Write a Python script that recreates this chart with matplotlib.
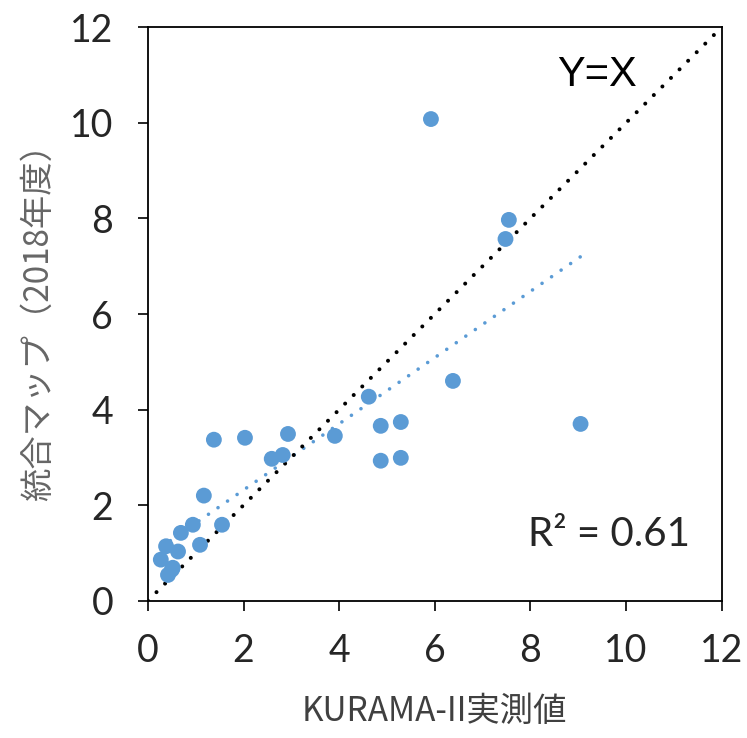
import numpy as np
import matplotlib.pyplot as plt

plt.rcParams['font.family'] = ['Noto Sans CJK JP', 'DejaVu Sans']

# KURAMA-II実測値 (x) と 統合マップ (y)
kurama = [5.92, 7.55, 7.48, 6.38, 9.05, 4.62, 5.29, 4.87, 4.87, 5.29,
          3.91, 2.93, 2.03, 1.38, 2.82, 2.59, 1.17, 1.55, 0.94, 0.69,
          1.09, 0.63, 0.38, 0.27, 0.50, 0.42, 0.52]
togo = [10.08, 7.97, 7.57, 4.60, 3.70, 4.27, 3.74, 3.66, 2.93, 2.99,
        3.45, 3.49, 3.41, 3.37, 3.05, 2.97, 2.20, 1.59, 1.59, 1.42,
        1.17, 1.03, 1.14, 0.86, 0.65, 0.54, 0.69]

ref_line = [0, 12]
r2_text = 'R² = 0.61'

fig = plt.figure(figsize=(7.47, 7.38), dpi=100)
ax = fig.add_axes([0.198, 0.186, 0.768, 0.777])

# 近似直線（線形）
a, b = np.polyfit(kurama, togo, 1)
xs = np.array([min(kurama), max(kurama)])
ax.plot(xs, a * xs + b, color='#5B9BD5', linestyle=(0, (0.01, 3.2)), linewidth=2.6,
        dash_capstyle='round', zorder=2)

# Y=X
ax.plot(ref_line, ref_line, color='black', linestyle=(0, (0.01, 3.0)), linewidth=2.9,
        dash_capstyle='round', zorder=3)

ax.scatter(kurama, togo, s=130, color='#5B9BD5', edgecolors='none', zorder=4)

ax.text(9.4, 11.0, 'Y=X', fontsize=30, family='Liberation Sans', ha='center', va='center')
ax.text(9.65, 1.38, r2_text, fontsize=29, family='Lato', ha='center', va='center',
        color='#262626')

ax.set_xlim(0, 12)
ax.set_ylim(0, 12)
ax.set_xticks(range(0, 13, 2))
ax.set_yticks(range(0, 13, 2))
ax.tick_params(direction='out', length=7, width=1.2, colors='black')
ax.tick_params(axis='x', pad=16)
ax.tick_params(axis='y', pad=18)
for lab in ax.get_xticklabels() + ax.get_yticklabels():
    lab.set_fontfamily('Lato')
    lab.set_fontsize(27)
    lab.set_color('#262626')
for sp in ax.spines.values():
    sp.set_linewidth(1.3)

ax.set_xlabel('KURAMA-II実測値', fontsize=24, color='#404040', labelpad=18)
ax.set_ylabel('統合マップ（2018年度）', fontsize=24, color='#666666', labelpad=10)

fig.savefig('out.png', dpi=100)
